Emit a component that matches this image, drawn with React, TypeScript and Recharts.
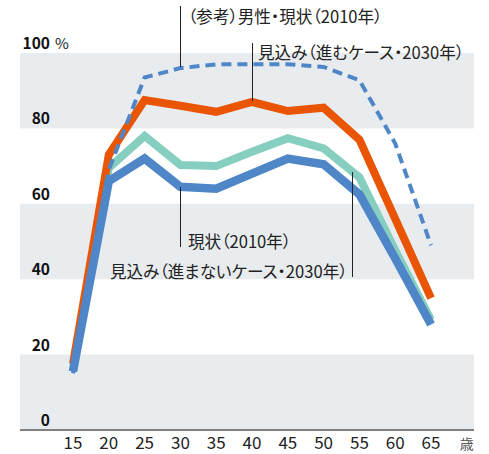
import React from "react";
import {
  LineChart,
  Line,
  XAxis,
  YAxis,
  ReferenceArea,
} from "recharts";

// 年齢階級別 労働力率（%）
const ages = [15, 20, 25, 30, 35, 40, 45, 50, 55, 60, 65];
const current2010 = [15.5, 66, 72, 64.5, 64, 68, 72, 70.5, 62.5, 45.5, 28];
const stagnant2030 = [16, 69.5, 78, 70.3, 70, 73.8, 77.4, 74.7, 67, 47.7, 29.2];
const advanced2030 = [17.5, 73, 87.5, 86, 84.4, 87, 84.6, 85.5, 77, 56, 35];
const men2010 = [15, 69, 93.5, 96, 97, 97, 97, 96.3, 92.8, 76, 49];

const xTicks = [15, 20, 25, 30, 35, 40, 45, 50, 55, 60, 65, 70];
const yTicks = [0, 20, 40, 60, 80, 100];
const bands: [number, number][] = [
  [0, 20],
  [40, 60],
  [80, 100],
];

const data = ages.map((age, i) => ({
  age,
  current: current2010[i],
  stagnant: stagnant2030[i],
  advanced: advanced2030[i],
  men: men2010[i],
}));

const FONT = '"Noto Sans CJK JP", "Noto Sans", sans-serif';
const BLUE = "#4f86c8";
const TEAL = "#86cfc0";
const ORANGE = "#ea5504";
const BAND = "#e8ecef";

const XTick = (props: any) => {
  const { x, y, payload } = props;
  const isUnit = payload.value === 70;
  return (
    <text
      x={x}
      y={y + 11}
      textAnchor="middle"
      fontFamily={FONT}
      fontSize={isUnit ? 14 : 17}
      fill={isUnit ? "#555" : "#222"}
    >
      {isUnit ? "歳" : payload.value}
    </text>
  );
};

const YTick = (props: any) => {
  const { y, payload } = props;
  return (
    <g>
      <text
        x={50}
        y={y - 4}
        textAnchor="end"
        fontFamily={FONT}
        fontSize={15.5}
        fontWeight="bold"
        fill="#111"
      >
        {payload.value}
      </text>
      {payload.value === 100 && (
        <text x={55} y={y - 4} fontFamily={FONT} fontSize={15} fill="#222">
          %
        </text>
      )}
    </g>
  );
};

const textStyle: React.CSSProperties = {
  fontFeatureSettings: '"palt"',
};

function Notes() {
  return (
    <svg
      width={489}
      height={454}
      style={{ position: "absolute", left: 0, top: 0, pointerEvents: "none" }}
    >
      <g stroke="#222" strokeWidth={1}>
        <line x1={180.5} y1={6} x2={180.5} y2={67} />
        <line x1={252.5} y1={43} x2={252.5} y2={101} />
        <line x1={180.5} y1={187} x2={180.5} y2={247} />
        <line x1={352.5} y1={172} x2={352.5} y2={277} />
      </g>
      <g fontFamily={FONT} fontSize={16.6} fill="#222" style={textStyle}>
        <text x={188} y={23}>（参考）男性・現状（2010年）</text>
        <text x={258} y={59}>見込み（進むケース・2030年）</text>
        <text x={188} y={248}>現状（2010年）</text>
        <text x={110} y={278}>見込み（進まないケース・2030年）</text>
      </g>
    </svg>
  );
}

export default function App() {
  return (
    <div style={{ position: "absolute", left: 0, top: 0, width: 489, height: 454 }}>
      <LineChart
        width={489}
        height={454}
        data={data}
        margin={{ top: 53, right: 15, left: 0, bottom: 0 }}
      >
        {bands.map(([y1, y2]) => (
          <ReferenceArea
            key={y1}
            y1={y1}
            y2={y2}
            fill={BAND}
            fillOpacity={1}
            stroke="none"
          />
        ))}
        <XAxis
          dataKey="age"
          type="number"
          domain={[7.6, 71]}
          ticks={xTicks}
          allowDataOverflow
          height={24}
          axisLine={{ stroke: "#808080", strokeWidth: 2 }}
          tickLine={false}
          tick={<XTick />}
          interval={0}
        />
        <YAxis
          domain={[0, 100]}
          ticks={yTicks}
          width={20}
          axisLine={false}
          tickLine={false}
          tick={<YTick />}
          interval={0}
        />
        <Line
          dataKey="stagnant"
          stroke={TEAL}
          strokeWidth={8}
          dot={false}
          activeDot={false}
          isAnimationActive={false}
        />
        <Line
          dataKey="advanced"
          stroke={ORANGE}
          strokeWidth={8}
          dot={false}
          activeDot={false}
          isAnimationActive={false}
        />
        <Line
          dataKey="current"
          stroke={BLUE}
          strokeWidth={8.5}
          dot={false}
          activeDot={false}
          isAnimationActive={false}
        />
        <Line
          dataKey="men"
          stroke={BLUE}
          strokeWidth={4}
          strokeDasharray="10 6"
          dot={false}
          activeDot={false}
          isAnimationActive={false}
        />
      </LineChart>
      <Notes />
    </div>
  );
}
